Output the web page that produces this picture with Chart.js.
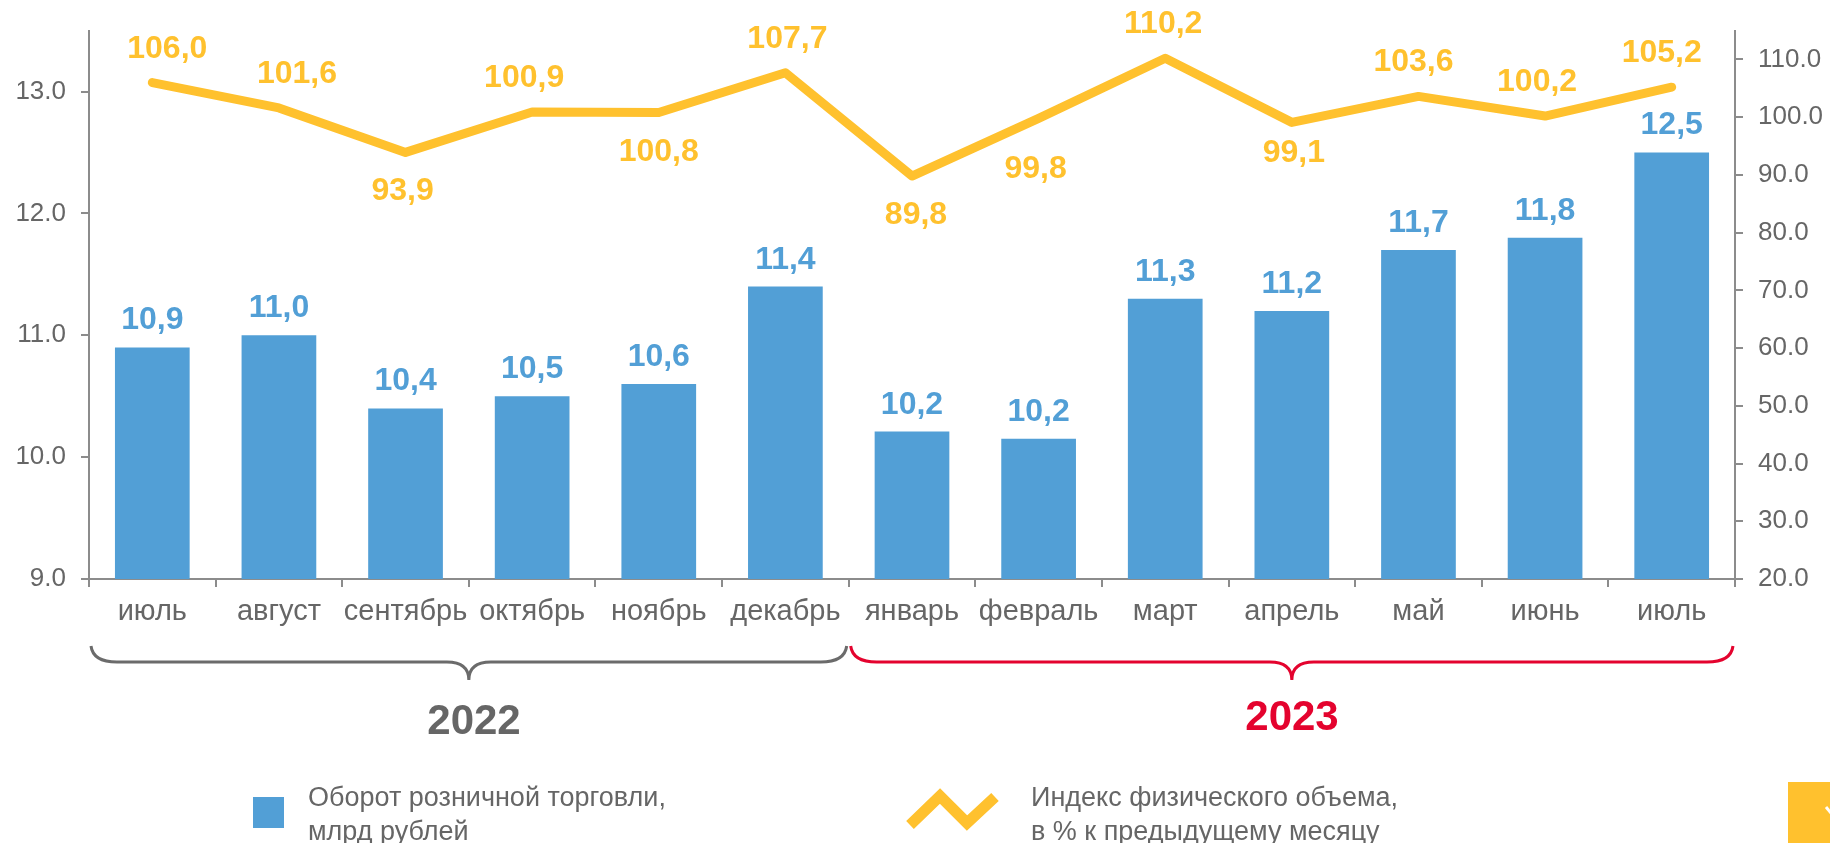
<!DOCTYPE html>
<html>
<head>
<meta charset="utf-8">
<script src="https://cdn.jsdelivr.net/npm/chart.js@4.4.0/dist/chart.umd.min.js"></script>
<style>
  body { margin: 0; background: #fff; }
  .wrap { position: relative; width: 1830px; height: 843px; overflow: hidden; font-family: "Liberation Sans", Arial, sans-serif; }
  .year { position: absolute; width: 200px; text-align: center; font-size: 42px; font-weight: bold; line-height: 42px; }
  .leg { position: absolute; font-size: 27px; line-height: 34px; color: #666; white-space: nowrap; }
</style>
</head>
<body>
<div class="wrap">
  <canvas id="myChart" width="1830" height="843"></canvas>
  <div class="year" style="left:374px; top:699px; color:#666">2022</div>
  <div class="year" style="left:1192px; top:695px; color:#e4032e">2023</div>
  <div class="leg" style="left:308px; top:780px">Оборот розничной торговли,<br>млрд рублей</div>
  <div class="leg" style="left:1031px; top:780px">Индекс физического объема,<br>в % к предыдущему месяцу</div>
</div>
<script>
const months = ['июль', 'август', 'сентябрь', 'октябрь', 'ноябрь', 'декабрь', 'январь', 'февраль', 'март', 'апрель', 'май', 'июнь', 'июль']
const turnover = [10.9, 11.0, 10.4, 10.5, 10.6, 11.4, 10.21, 10.15, 11.3, 11.2, 11.7, 11.8, 12.5]
const volumeIndex = [106.0, 101.6, 93.9, 100.9, 100.8, 107.7, 89.8, 99.8, 110.2, 99.1, 103.6, 100.2, 105.2]
const monthsPerYear = [6, 7]

const blue = '#529fd6'
const yellow = '#ffc12e'
const axisGray = '#8c8c8c'
const textGray = '#666'
const font = 'Liberation Sans'

// where the index labels sit relative to the line, plus small nudges (px)
const indexSide = ['up', 'up', 'down', 'up', 'down', 'up', 'down', 'down', 'up', 'down', 'up', 'up', 'up']
const indexNudgeX = [15, 18, -3, -8, 0, 2, 4, -3, -2, 2, -5, -8, -10]
const indexNudgeY = [0, 0, 0, 0, 0, 0, 0, 12, 0, -8, 0, 0, 0]

const fmt = v => v.toFixed(1).replace('.', ',')

const labelsPlugin = {
  id: 'labels',
  afterDatasetsDraw(chart) {
    const ctx = chart.ctx
    ctx.save()
    ctx.font = 'bold 32px ' + font
    ctx.textAlign = 'center'
    ctx.textBaseline = 'alphabetic'

    chart.getDatasetMeta(0).data.forEach((bar, i) => {
      ctx.fillStyle = blue
      ctx.fillText(fmt(turnover[i]), bar.x, bar.y - 18)
    })
    chart.getDatasetMeta(1).data.forEach((pt, i) => {
      ctx.fillStyle = yellow
      const y = (indexSide[i] === 'up' ? pt.y - 25 : pt.y + 48) + indexNudgeY[i]
      ctx.fillText(fmt(volumeIndex[i]), pt.x + indexNudgeX[i], y)
    })
    ctx.restore()
  }
}

function brace(ctx, x1, x2, color) {
  const top = 646, mid = 662, tip = 680
  const c = (x1 + x2) / 2
  ctx.strokeStyle = color
  ctx.lineWidth = 3
  ctx.beginPath()
  ctx.moveTo(x1 + 2, top)
  ctx.quadraticCurveTo(x1 + 4, mid, x1 + 28, mid)
  ctx.lineTo(c - 22, mid)
  ctx.quadraticCurveTo(c, mid, c, tip)
  ctx.quadraticCurveTo(c, mid, c + 22, mid)
  ctx.lineTo(x2 - 28, mid)
  ctx.quadraticCurveTo(x2 - 4, mid, x2 - 2, top)
  ctx.stroke()
}

const extrasPlugin = {
  id: 'extras',
  afterDraw(chart) {
    const ctx = chart.ctx
    const x = chart.scales.x
    const half = (x.getPixelForValue(1) - x.getPixelForValue(0)) / 2
    ctx.save()

    // year braces under the month labels
    let start = 0
    const colors = ['#6b6b6b', '#e4032e']
    monthsPerYear.forEach((n, k) => {
      const x1 = x.getPixelForValue(start) - half
      const x2 = x.getPixelForValue(start + n - 1) + half
      brace(ctx, x1, x2, colors[k])
      start += n
    })

    // legend markers
    ctx.fillStyle = blue
    ctx.fillRect(253, 797, 31, 31)
    ctx.strokeStyle = yellow
    ctx.lineWidth = 11
    ctx.lineJoin = 'miter'
    ctx.beginPath()
    ctx.moveTo(910, 825)
    ctx.lineTo(940, 796)
    ctx.lineTo(967, 823)
    ctx.lineTo(995, 797)
    ctx.stroke()

    // corner badge
    ctx.fillStyle = yellow
    ctx.fillRect(1788, 782, 42, 61)
    ctx.strokeStyle = '#fff'
    ctx.lineWidth = 3
    ctx.beginPath()
    ctx.moveTo(1826, 807)
    ctx.lineTo(1831, 813)
    ctx.stroke()
    ctx.restore()
  }
}

const axisGrid = { drawOnChartArea: false, color: axisGray, lineWidth: 2, tickLength: 8 }
const axisBorder = { color: axisGray, width: 2 }

const ctx = document.getElementById('myChart')

new Chart(ctx, {
  data: {
    labels: months,
    datasets: [{
      type: 'bar',
      label: 'Оборот розничной торговли, млрд рублей',
      data: turnover,
      backgroundColor: blue,
      barPercentage: 0.59,
      categoryPercentage: 1,
      yAxisID: 'y',
      order: 1
    }, {
      type: 'line',
      label: 'Индекс физического объема, в % к предыдущему месяцу',
      data: volumeIndex,
      borderColor: yellow,
      borderWidth: 9,
      borderCapStyle: 'round',
      borderJoinStyle: 'round',
      pointRadius: 0,
      tension: 0,
      yAxisID: 'y1',
      order: 0
    }]
  },
  options: {
    responsive: false,
    animation: false,
    devicePixelRatio: 1,
    layout: { padding: { top: 29 } },
    plugins: { legend: { display: false }, tooltip: { enabled: false } },
    scales: {
      x: {
        grid: { ...axisGrid, offset: true },
        border: axisBorder,
        ticks: { color: textGray, font: { family: font, size: 29 }, padding: 8, maxRotation: 0, autoSkip: false },
        afterFit: s => { s.height = 264 }
      },
      y: {
        position: 'left',
        min: 9,
        max: 13.5,
        grid: axisGrid,
        border: axisBorder,
        ticks: { stepSize: 1, includeBounds: false, autoSkip: false, color: textGray, font: { family: font, size: 26 }, padding: 15, callback: v => v.toFixed(1) },
        afterBuildTicks: s => { s.ticks = s.ticks.filter(t => t.value < 13.25) },
        afterFit: s => { s.width = 89 }
      },
      y1: {
        position: 'right',
        min: 20,
        max: 115,
        grid: axisGrid,
        border: axisBorder,
        ticks: { stepSize: 10, includeBounds: false, autoSkip: false, color: textGray, font: { family: font, size: 26 }, padding: 15, callback: v => v.toFixed(1) },
        afterBuildTicks: s => { s.ticks = s.ticks.filter(t => t.value < 112.5) },
        afterFit: s => { s.width = 95 }
      }
    }
  },
  plugins: [labelsPlugin, extrasPlugin]
})
</script>
</body>
</html>
